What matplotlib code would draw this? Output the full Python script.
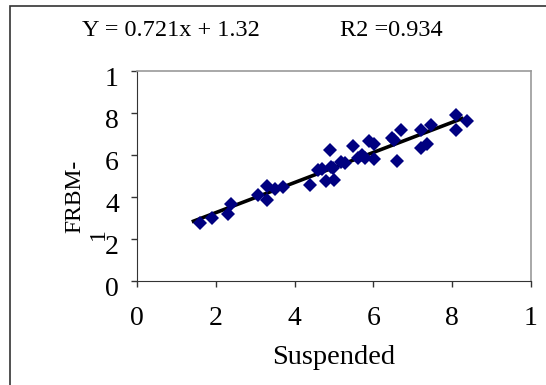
import numpy as np
import matplotlib
matplotlib.use("Agg")
import matplotlib.pyplot as plt
from matplotlib.patches import Rectangle
from matplotlib.transforms import ScaledTranslation

# suspended vs FRBM-1 readings
suspended = [1.61, 1.91, 2.30, 2.39, 3.08, 3.29, 3.29, 3.50, 3.71, 4.39,
             4.60, 4.69, 4.80, 4.90, 4.92, 4.98, 5.00, 5.17, 5.28, 5.49,
             5.60, 5.72, 5.79, 5.90, 6.02, 6.02, 6.47, 6.52, 6.59, 6.69,
             7.20, 7.20, 7.37, 7.46, 8.09, 8.37, 8.09]
frbm = [2.75, 3.02, 3.19, 3.68, 4.10, 4.52, 3.87, 4.40, 4.46, 4.57,
        5.29, 5.32, 4.76, 6.26, 5.44, 5.37, 4.81, 5.68, 5.60, 6.43,
        5.86, 5.98, 5.84, 6.66, 6.52, 5.79, 6.79, 6.71, 5.73, 7.17,
        7.19, 6.33, 6.51, 7.43, 7.90, 7.63, 7.19]

ticks = [0, 2, 4, 6, 8, 10]
tick_labels = ["0", "2", "4", "6", "8", "1"]
eq_text = "Y = 0.721x + 1.32"
r2_text = "R2 =0.934"

plt.rcParams["font.family"] = ["Liberation Serif", "DejaVu Serif"]

W, H = 546, 385
fig = plt.figure(figsize=(W/100, H/100), dpi=100)
ax = fig.add_axes([137/W, 1-281/H, 394/W, 210/H])

x = np.array(suspended)
y = np.array(frbm)

# linear trendline
k, b = np.polyfit(x, y, 1)
xl = np.array([x.min() - 0.22, x.max() - 0.08])
ax.plot(xl, k*xl + b, color="black", lw=2.6, solid_capstyle="butt", zorder=2)
ax.plot(x, y, "D", color="#000080", ms=7.5, mew=0, zorder=3)

ax.set_xlim(0, 10)
ax.set_ylim(0, 10)
ax.set_xticks(ticks)
ax.set_xticklabels(tick_labels)
ax.set_yticks(ticks)
ax.set_yticklabels(tick_labels)
ax.tick_params(direction="out", length=4, width=1, labelsize=20,
               colors="#333333", labelcolor="black")
ax.tick_params(axis="x", pad=14)
ax.tick_params(axis="y", pad=9)

# y labels sit a little below their ticks
shift = ScaledTranslation(0, -5/100, fig.dpi_scale_trans)
for lab in ax.get_yticklabels():
    lab.set_transform(lab.get_transform() + shift)

for s in ["left", "bottom"]:
    ax.spines[s].set_color("#333333")
for s in ["top", "right"]:
    ax.spines[s].set_color("#999999")
    ax.spines[s].set_linewidth(1.2)

fig.text(334/W, 1-357/H, "Suspended", fontsize=20.5, ha="center", va="center")
fig.text(74.5/W, 1-196/H, "FRBM-", fontsize=17, rotation=90,
         ha="center", va="center")
fig.text(98.5/W, 1-234/H, "1", fontsize=17, rotation=90,
         ha="center", va="center")

fig.text(82/W, 1-30/H, eq_text, fontsize=17.5, ha="left", va="center")
fig.text(340/W, 1-30/H, r2_text, fontsize=17.5, ha="left", va="center")

# outer frame, only top and left edges fall inside the canvas
fig.add_artist(Rectangle((10/W, -0.2), 1.0, 1.2 - 6/H, fill=False,
                         ec="#333333", lw=1.2, transform=fig.transFigure,
                         clip_on=False))

fig.savefig("out.png", dpi=100)
